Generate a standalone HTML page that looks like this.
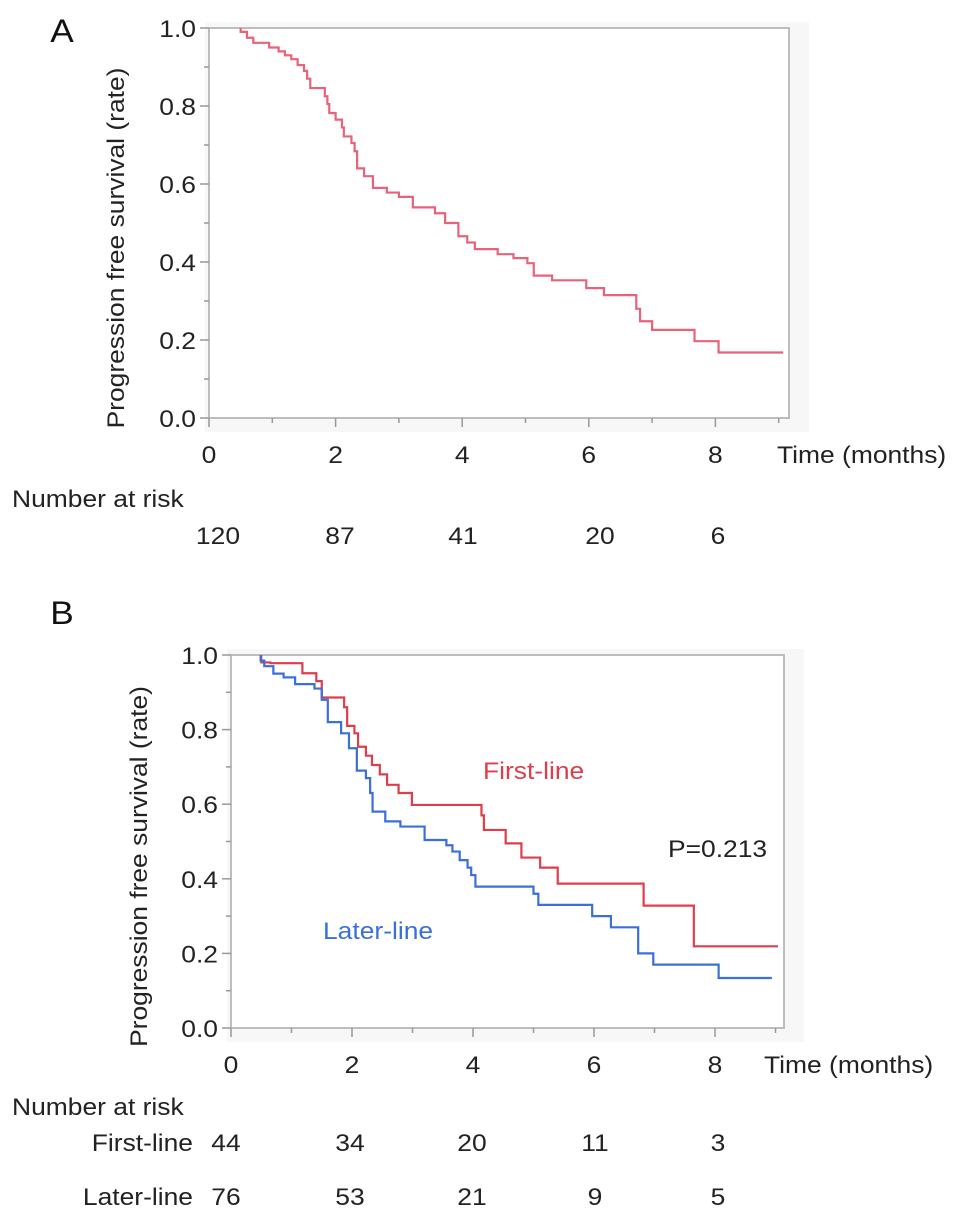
<!DOCTYPE html>
<html><head><meta charset="utf-8"><style>
html,body{margin:0;padding:0;background:#fff;width:969px;height:1219px;overflow:hidden}
svg{display:block;font-family:"Liberation Sans",Arial,sans-serif}
</style></head><body>
<svg id="s" width="969" height="1219" viewBox="0 0 969 1219"></svg>
<script>
const xTicks=[0,2,4,6,8];
const yTicks=[0,0.2,0.4,0.6,0.8,1.0];
const yTickLabels=["0.0","0.2","0.4","0.6","0.8","1.0"];
// Panel A: [time, survival after drop]
const allTimes=[0,0.5,0.6,0.7,0.95,1.1,1.2,1.3,1.4,1.5,1.55,1.6,1.83,1.87,1.9,2.0,2.1,2.13,2.25,2.3,2.34,2.45,2.59,2.81,3.0,3.22,3.57,3.73,3.94,4.08,4.2,4.56,4.81,5.03,5.13,5.42,5.96,6.24,6.75,6.81,7.0,7.67,8.05,9.07];
const allSurv=[1,0.99,0.975,0.962,0.95,0.94,0.93,0.92,0.905,0.89,0.87,0.846,0.825,0.805,0.782,0.765,0.745,0.722,0.705,0.684,0.64,0.62,0.59,0.578,0.567,0.54,0.525,0.50,0.466,0.45,0.433,0.42,0.41,0.397,0.365,0.353,0.333,0.315,0.28,0.248,0.226,0.197,0.168,0.168];
const riskA=[120,87,41,20,6];
// Panel B
const firstTimes=[0,0.5,0.65,1.18,1.41,1.5,1.87,1.92,2.04,2.1,2.23,2.33,2.46,2.58,2.77,2.99,4.14,4.18,4.54,4.8,5.11,5.4,6.82,7.65,9.04];
const firstSurv=[1,0.98,0.978,0.951,0.93,0.886,0.86,0.81,0.79,0.754,0.73,0.705,0.68,0.652,0.63,0.598,0.57,0.531,0.495,0.457,0.43,0.387,0.328,0.219,0.219];
const laterTimes=[0,0.49,0.55,0.7,0.87,1.06,1.38,1.5,1.6,1.82,1.95,2.08,2.23,2.3,2.34,2.55,2.8,3.2,3.56,3.66,3.78,3.91,3.97,4.04,5.0,5.08,5.97,6.28,6.73,6.98,8.06,8.94];
const laterSurv=[1,0.985,0.97,0.95,0.94,0.922,0.91,0.88,0.82,0.79,0.75,0.69,0.67,0.63,0.58,0.554,0.54,0.504,0.49,0.473,0.45,0.43,0.41,0.379,0.36,0.33,0.30,0.27,0.20,0.17,0.134,0.134];
const riskFirst=[44,34,20,11,3];
const riskLater=[76,53,21,9,5];

const S=document.getElementById('s');
const NS='http://www.w3.org/2000/svg';
const FS=24, STRETCH=1.1;
function mk(tag,attrs,parent){const e=document.createElementNS(NS,tag);for(const k in attrs)e.setAttribute(k,attrs[k]);(parent||S).appendChild(e);return e;}
function txt(str,x,y,size,anchor,fill,parent){const t=mk('text',{x:x,y:y,'font-size':size,'text-anchor':anchor||'start',fill:fill||'#222'},parent);t.textContent=str;
  const w=t.getComputedTextLength();if(w>0){t.setAttribute('textLength',(w*STRETCH).toFixed(1));t.setAttribute('lengthAdjust','spacingAndGlyphs');}
  return t;}

function panel(P){
  const g=mk('g',{});
  
  
  const X=t=>P.x0+t*P.px;
  const Y=v=>P.y0-v*P.py;
  mk('rect',{x:P.x0-4,y:P.top-6,width:P.right-P.x0+24,height:P.y0-P.top+20,fill:'#f7f7f7'},g);
  const fr=mk('rect',{x:P.x0,y:P.top,width:P.right-P.x0,height:P.y0-P.top,fill:'#fff',stroke:'#bdbdbd','stroke-width':2},g);
  
  
  for(let i=0;i<=10;i++){const v=i/10;mk('line',{x1:P.x0-(i%2?5:9),x2:P.x0,y1:Y(v),y2:Y(v),stroke:'#999','stroke-width':1.5},g);}
  for(let m=0;m<=9;m++){mk('line',{x1:X(m),x2:X(m),y1:P.y0,y2:P.y0+(m%2?5:9),stroke:'#999','stroke-width':1.5},g);}
  yTicks.forEach((v,i)=>{const t=txt(yTickLabels[i],P.x0-13,Y(v)+9,FS,'end','#222',g);
    
    });
  xTicks.forEach(m=>{const t=txt(String(m),X(m),P.y0+45,FS,'middle','#222',g);
    
    });
  const xt=txt('Time (months)',P.tx,P.y0+45,FS,'start','#222',g);
  
  
  const yt=txt('Progression free survival (rate)',0,0,FS,'middle','#222',g);
  yt.setAttribute('transform','translate('+P.ytx+','+((P.top+P.y0)/2+25)+') rotate(-90)');
  
  
  P.series.forEach(s=>{
    let d='';
    for(let i=1;i<s.t.length;i++){
      if(i===1)d+='M'+X(s.t[1])+','+Y(s.s[0]);
      d+=' V'+Y(s.s[i]);
      if(i+1<s.t.length)d+=' H'+X(s.t[i+1]);
    }
    const p=mk('path',{d:d,fill:'none',stroke:s.c,'stroke-width':2.2},g);
    
    
  });
  return {X,Y};
}

const A=panel({name:'panel-a',x0:209,px:63.3,y0:418,py:390,top:28,right:789,ytx:124,tx:777,
  series:[{t:allTimes,s:allSurv,c:'#e8637a',name:'curve-all-patients'}]});
const B=panel({name:'panel-b',x0:231,px:60.5,y0:1028,py:373,top:655,right:784,ytx:147,tx:764,
  series:[{t:firstTimes,s:firstSurv,c:'#de3e4c',name:'curve-first-line'},{t:laterTimes,s:laterSurv,c:'#3b6fd9',name:'curve-later-line'}]});

let t;
t=txt('A',62,42,32,'middle','#111');


t=txt('B',62,624,32,'middle','#111');


t=txt('Number at risk',12,507,FS,'start','#222');


const riskXA=[218,340,463,600,718];
riskA.forEach((n,i)=>{const e=txt(String(n),riskXA[i],544,FS,'middle','#222');
  
  });
t=txt('Number at risk',12,1115,FS,'start','#222');


t=txt('First-line',193,1151,FS,'end','#222');


t=txt('Later-line',193,1205,FS,'end','#222');


const riskXB=[226,350,472,595,718];
riskFirst.forEach((n,i)=>{const e=txt(String(n),riskXB[i],1151,FS,'middle','#222');
  
  });
riskLater.forEach((n,i)=>{const e=txt(String(n),riskXB[i],1205,FS,'middle','#222');
  
  });
t=txt('First-line',483,779,FS,'start','#de3e4c');


t=txt('Later-line',323,939,FS,'start','#3b6fd9');


t=txt('P=0.213',668,857,FS,'start','#222');


</script>
</body></html>
